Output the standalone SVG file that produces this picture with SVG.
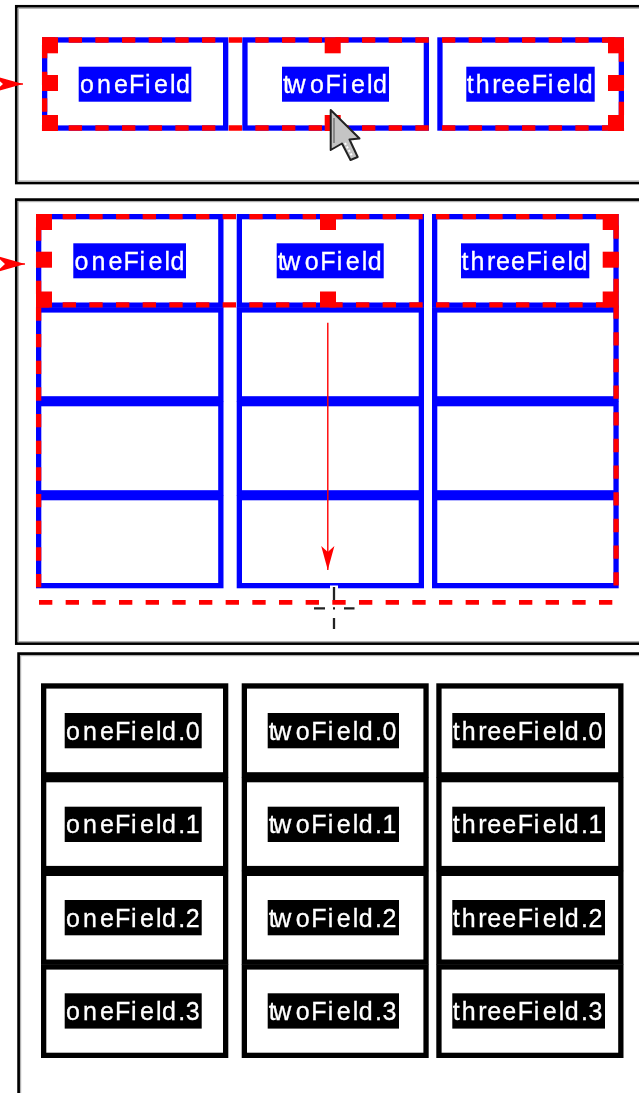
<svg xmlns="http://www.w3.org/2000/svg" width="639" height="1093" viewBox="0 0 639 1093">
<style>
.frame{fill:none;stroke:#000;stroke-width:2.7}
.shade{fill:none;stroke:#b0b0b0;stroke-width:1.2}
.blue{fill:#fff;stroke:#00f;stroke-width:5.3}
.black{fill:#fff;stroke:#000;stroke-width:5.3}
.sel{fill:none;stroke:#f00;stroke-width:5.3;stroke-dasharray:13.333 13.333}
.h{fill:#f00}
.lb{fill:#00f}
.lk{fill:#000}
text{font-family:"Liberation Sans",Arial,sans-serif;font-size:25px;fill:#fff;stroke:#fff;stroke-width:.3}
.arrow{fill:none;stroke:#f00;stroke-width:1.4}
.cross{fill:none;stroke:#222;stroke-width:2.3}
</style>
<defs>
<marker id="head" markerUnits="userSpaceOnUse" markerWidth="26" markerHeight="16" viewBox="0 0 26 16" refX="25" refY="8" orient="auto">
<path d="M1 1.4 L25 8 L1 14.6 L7 8Z" fill="#f00"/>
</marker>
<marker id="head-cut" markerUnits="userSpaceOnUse" markerWidth="31" markerHeight="20" viewBox="0 0 31 20" refX="30" refY="10" orient="auto">
<path d="M1 1.8 L30 10 L1 18.2 L10 10Z" fill="#f00"/>
</marker>
<filter id="soft" filterUnits="userSpaceOnUse" x="0" y="0" width="639" height="1093"><feGaussianBlur stdDeviation="0.4"/></filter>
</defs>
<rect width="639" height="1093" fill="#fff"/>
<g filter="url(#soft)">
<g id="panel-1-frame">
<rect class="frame" x="16.3" y="6.3" width="700" height="176.7"/>
<rect class="shade" x="18.3" y="8.3" width="700" height="172.7"/>
</g>
<g id="panel-2-frame">
<rect class="frame" x="16.3" y="199.6" width="700" height="444"/>
<rect class="shade" x="18.3" y="201.6" width="700" height="440"/>
</g>
<g id="panel-3-frame">
<rect class="frame" x="18.6" y="653.6" width="700" height="500"/>
<rect class="shade" x="20.6" y="655.6" width="700" height="500"/>
</g>

<g id="p1-oneField"><rect class="blue" x="44.65" y="39.95" width="181" height="88.1"/><rect class="lb" x="78.7" y="66.7" width="112.6" height="35"/><text x="80 97 114 129 145 154 170 176" y="93.4">oneField</text></g>
<g id="p1-twoField"><rect class="blue" x="244.95" y="39.95" width="181.4" height="88.1"/><rect class="lb" x="282" y="66.7" width="107" height="35"/><text x="283 287.5 310 325.5 342 351 367 373" y="93.4">twoField</text></g>
<g id="p1-threeField"><rect class="blue" x="439.95" y="39.95" width="181.4" height="88.1"/><rect class="lb" x="466.3" y="66.7" width="128.4" height="35"/><text x="466.8 475.8 492.3 501.3 516.3 531.8 547.8 556.8 572.8 578.8" y="93.4">threeField</text></g>
<g id="p1-selection">
<line class="sel" x1="42" y1="40" x2="624" y2="40"/>
<line class="sel" x1="42" y1="128" x2="624" y2="128"/>
<line class="sel" x1="44.6" y1="45" x2="44.6" y2="131"/>
<line class="sel" x1="621.4" y1="48.3" x2="621.4" y2="131"/>
<rect class="h" x="42" y="37.3" width="16" height="16"/><rect class="h" x="42" y="75" width="16" height="16"/><rect class="h" x="42" y="115" width="16" height="16"/>
<rect class="h" x="324.7" y="37.3" width="16" height="16"/><rect class="h" x="324.7" y="115" width="16" height="16"/>
<rect class="h" x="608" y="37.3" width="16" height="16"/><rect class="h" x="608" y="75" width="16" height="16"/><rect class="h" x="608" y="115" width="16" height="16"/>
</g>

<g id="p2-col1-row1"><rect class="blue" x="38.65" y="216.65" width="182.2" height="88.5"/></g>
<g id="p2-col1-row2"><rect class="blue" x="38.65" y="309.95" width="182.2" height="88.9"/></g>
<g id="p2-col1-row3"><rect class="blue" x="38.65" y="403.65" width="182.2" height="89.2"/></g>
<g id="p2-col1-row4"><rect class="blue" x="38.65" y="497.65" width="182.2" height="88"/></g>
<g id="p2-col2-row1"><rect class="blue" x="239.35" y="216.65" width="182" height="88.5"/></g>
<g id="p2-col2-row2"><rect class="blue" x="239.35" y="309.95" width="182" height="88.9"/></g>
<g id="p2-col2-row3"><rect class="blue" x="239.35" y="403.65" width="182" height="89.2"/></g>
<g id="p2-col2-row4"><rect class="blue" x="239.35" y="497.65" width="182" height="88"/></g>
<g id="p2-col3-row1"><rect class="blue" x="434.65" y="216.65" width="181.4" height="88.5"/></g>
<g id="p2-col3-row2"><rect class="blue" x="434.65" y="309.95" width="181.4" height="88.9"/></g>
<g id="p2-col3-row3"><rect class="blue" x="434.65" y="403.65" width="181.4" height="89.2"/></g>
<g id="p2-col3-row4"><rect class="blue" x="434.65" y="497.65" width="181.4" height="88"/></g>
<g id="p2-oneField"><rect class="lb" x="73.3" y="243.3" width="112.7" height="35"/><text x="74.6 91.6 108.6 123.6 139.6 148.6 164.6 170.6" y="270">oneField</text></g>
<g id="p2-twoField"><rect class="lb" x="276.7" y="243.3" width="107" height="35"/><text x="277.7 282.2 304.7 320.2 336.7 345.7 361.7 367.7" y="270">twoField</text></g>
<g id="p2-threeField"><rect class="lb" x="461" y="243.3" width="128.3" height="35"/><text x="461.5 470.5 487 496 511 526.5 542.5 551.5 567.5 573.5" y="270">threeField</text></g>
<g id="p2-selection">
<line class="sel" x1="36" y1="216.6" x2="618.7" y2="216.6"/>
<line class="sel" x1="36" y1="304.9" x2="618.7" y2="304.9"/>
<line class="sel" x1="38.6" y1="227.3" x2="38.6" y2="588.3"/>
<line class="sel" x1="616.1" y1="225.5" x2="616.1" y2="588"/>
<line class="sel" x1="39" y1="602.3" x2="613.4" y2="602.3" style="stroke-width:4.7"/>
<rect class="h" x="36" y="214" width="16" height="16"/><rect class="h" x="36" y="251.7" width="16" height="16"/><rect class="h" x="36" y="291.5" width="16" height="16"/>
<rect class="h" x="320" y="214" width="16" height="16"/><rect class="h" x="320" y="291.5" width="16" height="16"/>
<rect class="h" x="602.7" y="214" width="16" height="16"/><rect class="h" x="602.7" y="251.7" width="16" height="16"/><rect class="h" x="602.7" y="291.5" width="16" height="16"/>
</g>

<g id="p3-one-0"><rect class="black" x="43.65" y="685.95" width="182" height="88.9"/><rect class="lk" x="64.7" y="713" width="137" height="35.3"/><text x="66 83 100 115 131 140 156 162 178.2 185.7" y="739.7">oneField.0</text></g>
<g id="p3-one-1"><rect class="black" x="43.65" y="779.65" width="182" height="88.9"/><rect class="lk" x="64.7" y="806.7" width="137" height="35.3"/><text x="66 83 100 115 131 140 156 162 178.2 185.7" y="833.4">oneField.1</text></g>
<g id="p3-one-2"><rect class="black" x="43.65" y="873.35" width="182" height="88.8"/><rect class="lk" x="64.7" y="900" width="137" height="35.3"/><text x="66 83 100 115 131 140 156 162 178.2 185.7" y="926.7">oneField.2</text></g>
<g id="p3-one-3"><rect class="black" x="43.65" y="966.95" width="182" height="88.4"/><rect class="lk" x="64.7" y="993.3" width="137" height="35.3"/><text x="66 83 100 115 131 140 156 162 178.2 185.7" y="1020">oneField.3</text></g>
<g id="p3-two-0"><rect class="black" x="244.35" y="685.95" width="181.7" height="88.9"/><rect class="lk" x="267.7" y="713" width="131.3" height="35.3"/><text x="268.7 273.2 295.7 311.2 327.7 336.7 352.7 358.7 375 382.4" y="739.7">twoField.0</text></g>
<g id="p3-two-1"><rect class="black" x="244.35" y="779.65" width="181.7" height="88.9"/><rect class="lk" x="267.7" y="806.7" width="131.3" height="35.3"/><text x="268.7 273.2 295.7 311.2 327.7 336.7 352.7 358.7 375 382.4" y="833.4">twoField.1</text></g>
<g id="p3-two-2"><rect class="black" x="244.35" y="873.35" width="181.7" height="88.8"/><rect class="lk" x="267.7" y="900" width="131.3" height="35.3"/><text x="268.7 273.2 295.7 311.2 327.7 336.7 352.7 358.7 375 382.4" y="926.7">twoField.2</text></g>
<g id="p3-two-3"><rect class="black" x="244.35" y="966.95" width="181.7" height="88.4"/><rect class="lk" x="267.7" y="993.3" width="131.3" height="35.3"/><text x="268.7 273.2 295.7 311.2 327.7 336.7 352.7 358.7 375 382.4" y="1020">twoField.3</text></g>
<g id="p3-three-0"><rect class="black" x="438.95" y="685.95" width="181.9" height="88.9"/><rect class="lk" x="452.3" y="713" width="152.7" height="35.3"/><text x="452.8 461.8 478.3 487.3 502.3 517.8 533.8 542.8 558.8 564.8 581 588.5" y="739.7">threeField.0</text></g>
<g id="p3-three-1"><rect class="black" x="438.95" y="779.65" width="181.9" height="88.9"/><rect class="lk" x="452.3" y="806.7" width="152.7" height="35.3"/><text x="452.8 461.8 478.3 487.3 502.3 517.8 533.8 542.8 558.8 564.8 581 588.5" y="833.4">threeField.1</text></g>
<g id="p3-three-2"><rect class="black" x="438.95" y="873.35" width="181.9" height="88.8"/><rect class="lk" x="452.3" y="900" width="152.7" height="35.3"/><text x="452.8 461.8 478.3 487.3 502.3 517.8 533.8 542.8 558.8 564.8 581 588.5" y="926.7">threeField.2</text></g>
<g id="p3-three-3"><rect class="black" x="438.95" y="966.95" width="181.9" height="88.4"/><rect class="lk" x="452.3" y="993.3" width="152.7" height="35.3"/><text x="452.8 461.8 478.3 487.3 502.3 517.8 533.8 542.8 558.8 564.8 581 588.5" y="1020">threeField.3</text></g>

<g id="connectors">
<line class="arrow" x1="6" y1="84" x2="23" y2="84" marker-end="url(#head-cut)"/>
<line class="arrow" x1="8" y1="264" x2="25" y2="264" marker-end="url(#head-cut)"/>
<line class="arrow" x1="327.8" y1="322.7" x2="327.8" y2="570" marker-end="url(#head)"/>
</g>

<g id="arrow-cursor">
<path d="M330.7 110 L359.5 138.5 L349.5 139.5 L357.7 157 L350.5 160 L342 143.5 L330.7 150Z" fill="#c4c4c4" stroke="#222" stroke-width="2" stroke-linejoin="round"/>
<path d="M334 118 L334 143" fill="none" stroke="#888" stroke-width="2"/>
<path d="M345 143 L352 156" fill="none" stroke="#fff" stroke-width="2" stroke-dasharray="2 2"/>
</g>
<g id="cross-cursor">
<rect x="330" y="585.5" width="8" height="4" fill="#fff"/>
<path class="cross" d="M334 587V600M334 618V629M314 608.4H325M344 608.4H354.5M333 608.4H335"/>
</g>
</g>
</svg>
